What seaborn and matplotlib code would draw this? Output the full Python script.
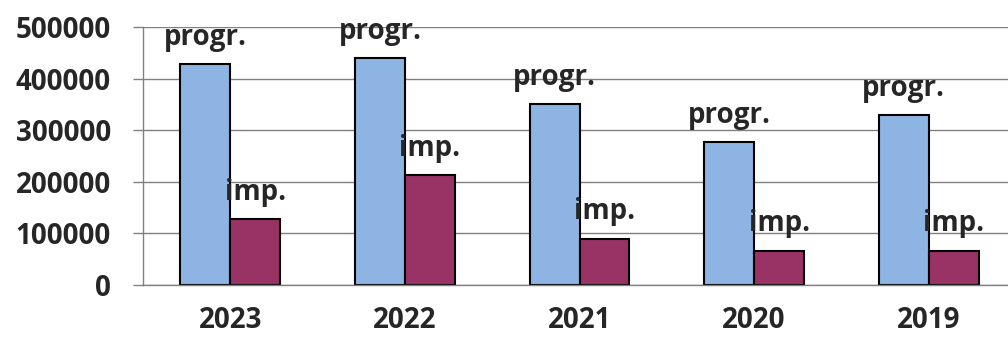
import matplotlib
matplotlib.use("Agg")
import matplotlib.pyplot as plt
import seaborn as sns
import pandas as pd

# valori
years = ["2023", "2022", "2021", "2020", "2019"]
progr = [428000, 439000, 350000, 277000, 329000]
imp = [127000, 213000, 90000, 66000, 66000]
series = ["progr.", "imp."]
y_ticks = [0, 100000, 200000, 300000, 400000, 500000]
colors = ["#8EB4E3", "#993366"]

df = pd.DataFrame({
    "year": years * 2,
    "value": progr + imp,
    "serie": [series[0]] * len(years) + [series[1]] * len(years),
})

sns.set_style("white")
plt.rcParams["font.family"] = ["Open Sans", "DejaVu Sans"]
plt.rcParams["font.weight"] = "bold"

fig = plt.figure(figsize=(10.08, 3.38), dpi=100)
ax = fig.add_axes([143 / 1008, (338 - 285) / 338, 873 / 1008, 258 / 338])

sns.barplot(data=df, x="year", y="value", hue="serie", hue_order=series,
            order=years, palette=colors, saturation=1, width=0.572, gap=0,
            edgecolor="black", linewidth=1.5, errorbar=None, legend=False, ax=ax)

# etichette delle serie sopra le barre
for cont, name in zip(ax.containers, series):
    ax.bar_label(cont, labels=[name] * len(years), padding=9,
                 fontsize=20, fontweight="bold")

ax.set_ylim(0, 500000)
ax.set_xlim(-0.5, len(years) - 0.5)
ax.set_yticks(y_ticks)
ax.set_yticklabels([str(v) for v in y_ticks], fontsize=20, fontweight="bold")
ax.yaxis.grid(True, color="#808080", linewidth=1)
ax.set_axisbelow(True)

# tacche tra le categorie, etichette al centro
ax.set_xticks([i - 0.5 for i in range(len(years) + 1)])
ax.set_xticklabels([])
ax.set_xticks(range(len(years)), minor=True)
ax.set_xticklabels(years, minor=True, fontsize=20, fontweight="bold")
ax.tick_params(axis="x", which="major", length=7.2, width=1, color="#808080", direction="out")
ax.tick_params(axis="x", which="minor", length=0, pad=15)
ax.tick_params(axis="y", length=7.2, width=1, color="#808080", pad=16, left=True)

ax.set_xlabel("")
ax.set_ylabel("")
for s in ["top", "right"]:
    ax.spines[s].set_visible(False)
for s in ["left", "bottom"]:
    ax.spines[s].set_color("#808080")
    ax.spines[s].set_linewidth(1)

fig.savefig("out.png", dpi=100)
